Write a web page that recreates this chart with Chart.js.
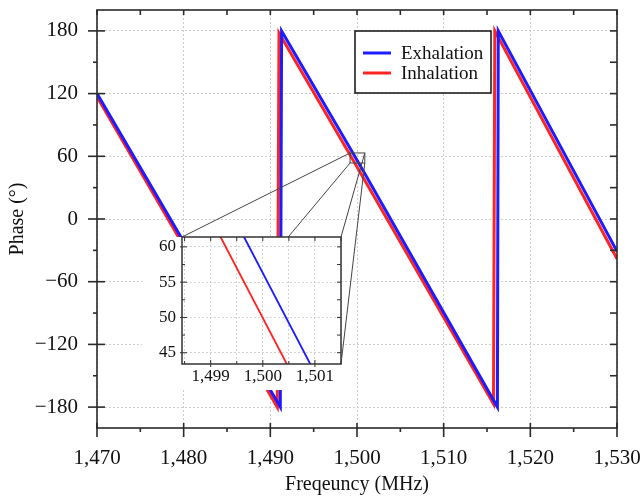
<!DOCTYPE html>
<html>
<head>
<meta charset="utf-8">
<script src="https://cdn.jsdelivr.net/npm/chart.js@4.4.0/dist/chart.umd.min.js"></script>
<style>
  html, body { margin: 0; padding: 0; background: #fff; }
  #wrap { position: relative; width: 643px; height: 497px; }
  #main { position: absolute; left: 0; top: 0; }
  #inset { position: absolute; left: 142px; top: 236px; }
</style>
</head>
<body>
<div id="wrap">
  <canvas id="main" width="643" height="497"></canvas>
  <canvas id="inset" width="203" height="154"></canvas>
</div>
<script>
// Phase vs frequency
const exhalationFreq  = [1470, 1491.15, 1491.3, 1499.64, 1500.91, 1516.2, 1516.3, 1530];
const exhalationPhase = [120, -180, 180, 61.4, 43.4, -180, 180, -31];
const inhalationFreq  = [1470, 1490.8, 1491.0, 1499.19, 1500.46, 1515.75, 1515.9, 1530];
const inhalationPhase = [117, -180, 178, 61.4, 43.4, -177, 180, -38];

const freqTicks  = [1470, 1480, 1490, 1500, 1510, 1520, 1530];
const freqMinor  = [1475, 1485, 1495, 1505, 1515, 1525];
const phaseTicks = [-180, -120, -60, 0, 60, 120, 180];
const phaseMinor = [-150, -90, -30, 30, 90, 150];

// inset window
const insetFreqTicks  = [1499, 1500, 1501];
const insetPhaseTicks = [45, 50, 55, 60];
const insetFreqRange  = [1498.45, 1501.5];
const insetPhaseRange = [43.4, 61.4];
// small box marked on the main plot
const zoomBoxFreq  = [1499.2, 1500.9];
const zoomBoxPhase = [53.6, 63.2];

const blue = '#1c1cff';
const red = '#ff2424';
const serif = "'Liberation Serif', 'Times New Roman', serif";
const ink = '#111';

const toPoints = (xs, ys) => xs.map((x, i) => ({ x: x, y: ys[i] }));
const fmt = v => Number(v).toLocaleString('en-US').replace('-', '\u2212');

function tickMarks(ctx, scale, values, fixed, from, to) {
    // draws short marks across an axis line
    values.forEach(v => {
        const p = scale.getPixelForValue(v);
        ctx.beginPath();
        if (scale.isHorizontal()) {
            ctx.moveTo(p, fixed + from);
            ctx.lineTo(p, fixed + to);
        } else {
            ctx.moveTo(fixed + from, p);
            ctx.lineTo(fixed + to, p);
        }
        ctx.stroke();
    });
}

function frame(ctx, ca, color, width) {
    ctx.save();
    ctx.strokeStyle = color;
    ctx.lineWidth = width;
    ctx.strokeRect(ca.left, ca.top, ca.right - ca.left, ca.bottom - ca.top);
    ctx.restore();
}

// ---------- inset ----------
const insetDeco = {
    id: 'insetDeco',
    beforeDraw(chart) {
        const { ctx, chartArea: ca } = chart;
        ctx.save();
        ctx.fillStyle = '#fff';
        ctx.fillRect(0, ca.top, ca.right, chart.height - ca.top);
        ctx.restore();
    },
    afterDraw(chart) {
        const { ctx, chartArea: ca } = chart;
        const xs = chart.scales.x, ys = chart.scales.y;
        frame(ctx, ca, '#333', 1.5);
        ctx.save();
        ctx.strokeStyle = '#333';
        ctx.lineWidth = 1;
        const fMinor = [1498.5, 1499.5, 1500.5, 1501.5];
        const pMinor = [47.5, 52.5, 57.5];
        tickMarks(ctx, ys, insetPhaseTicks, ca.left, -2, 5);
        tickMarks(ctx, ys, pMinor, ca.left, 0, 3);
        tickMarks(ctx, ys, insetPhaseTicks.concat(pMinor), ca.right, -4, 0);
        tickMarks(ctx, xs, insetFreqTicks, ca.bottom, -4, 3);
        tickMarks(ctx, xs, fMinor, ca.bottom, -3, 0);
        tickMarks(ctx, xs, insetFreqTicks.concat(fMinor), ca.top, 0, 4);
        ctx.restore();
    }
};

const insetChart = new Chart(document.getElementById('inset'), {
    type: 'line',
    data: {
        datasets: [
            { label: 'Exhalation', data: toPoints(exhalationFreq, exhalationPhase), borderColor: blue, borderWidth: 1.8, pointRadius: 0 },
            { label: 'Inhalation', data: toPoints(inhalationFreq, inhalationPhase), borderColor: red, borderWidth: 1.8, pointRadius: 0 }
        ]
    },
    options: {
        responsive: false,
        animation: false,
        events: [],
        layout: { padding: { left: 0, top: 1, right: 4, bottom: 0 } },
        plugins: { legend: { display: false }, tooltip: { enabled: false } },
        scales: {
            x: {
                type: 'linear',
                min: insetFreqRange[0],
                max: insetFreqRange[1],
                afterBuildTicks: s => {
                    const t = [];
                    for (let v = 1498.5; v <= 1501.51; v += 0.5) t.push({ value: +v.toFixed(1) });
                    s.ticks = t;
                },
                afterFit: s => { s.height = 26; s.paddingLeft = 0; s.paddingRight = 0; },
                grid: { drawTicks: false, color: '#d2d2d2' },
                border: { display: false, dash: [2, 2] },
                ticks: {
                    padding: 2, autoSkip: false, maxRotation: 0, color: ink,
                    font: { family: serif, size: 17 },
                    callback: v => insetFreqTicks.includes(v) ? fmt(v) : ''
                }
            },
            y: {
                type: 'linear',
                min: insetPhaseRange[0],
                max: insetPhaseRange[1],
                afterBuildTicks: s => { s.ticks = insetPhaseTicks.map(v => ({ value: v })); },
                afterFit: s => { s.width = 40; s.paddingTop = 0; s.paddingBottom = 0; },
                grid: { drawTicks: false, color: '#d2d2d2' },
                border: { display: false, dash: [2, 2] },
                ticks: { padding: 6, autoSkip: false, color: ink, font: { family: serif, size: 17 }, callback: v => fmt(v) }
            }
        }
    },
    plugins: [insetDeco]
});

// ---------- main ----------
const mainDeco = {
    id: 'mainDeco',
    afterDraw(chart) {
        const { ctx, chartArea: ca } = chart;
        const xs = chart.scales.x, ys = chart.scales.y;

        frame(ctx, ca, '#2a2a2a', 1.6);
        ctx.save();
        ctx.strokeStyle = '#2a2a2a';
        ctx.lineWidth = 1.6;
        tickMarks(ctx, ys, phaseTicks, ca.left, -9, 8);
        tickMarks(ctx, ys, phaseMinor, ca.left, -4, 0);
        tickMarks(ctx, ys, phaseTicks.concat(phaseMinor), ca.right, -7, 0);
        tickMarks(ctx, xs, freqTicks, ca.bottom, -5, 9);
        tickMarks(ctx, xs, freqMinor, ca.bottom, 0, 4);
        tickMarks(ctx, xs, freqTicks.concat(freqMinor), ca.top, 0, 5);
        ctx.restore();

        // zoom box and connectors to the inset
        const bx0 = xs.getPixelForValue(zoomBoxFreq[0]), bx1 = xs.getPixelForValue(zoomBoxFreq[1]);
        const by0 = ys.getPixelForValue(zoomBoxPhase[1]), by1 = ys.getPixelForValue(zoomBoxPhase[0]);
        const icv = insetChart.canvas, ica = insetChart.chartArea;
        const il = icv.offsetLeft + ica.left, ir = icv.offsetLeft + ica.right;
        const it = icv.offsetTop + ica.top, ib = icv.offsetTop + ica.bottom;
        ctx.save();
        ctx.strokeStyle = '#444';
        ctx.lineWidth = 1;
        ctx.strokeRect(bx0, by0, bx1 - bx0, by1 - by0);
        [[bx0, by0, il, it], [bx0, by1, il, ib], [bx1, by0, ir, it], [bx1, by1, ir, ib]].forEach(s => {
            ctx.beginPath();
            ctx.moveTo(s[0], s[1]);
            ctx.lineTo(s[2], s[3]);
            ctx.stroke();
        });
        ctx.restore();

        // legend
        const lx = 355, ly = 31, lw = 136, lh = 62;
        ctx.save();
        ctx.fillStyle = '#fff';
        ctx.fillRect(lx, ly, lw, lh);
        ctx.strokeStyle = '#111';
        ctx.lineWidth = 1.5;
        ctx.strokeRect(lx, ly, lw, lh);
        ctx.font = '19px ' + serif;
        ctx.textBaseline = 'middle';
        ctx.fillStyle = ink;
        chart.data.datasets.forEach((ds, i) => {
            const y = ly + 22 + i * 20;
            ctx.strokeStyle = ds.borderColor;
            ctx.lineWidth = 3;
            ctx.beginPath();
            ctx.moveTo(lx + 8, y);
            ctx.lineTo(lx + 36, y);
            ctx.stroke();
            ctx.fillText(ds.label, lx + 46, y + 1);
        });
        ctx.restore();
    }
};

new Chart(document.getElementById('main'), {
    type: 'line',
    data: {
        datasets: [
            { label: 'Exhalation', data: toPoints(exhalationFreq, exhalationPhase), borderColor: blue, borderWidth: 3, pointRadius: 0 },
            { label: 'Inhalation', data: toPoints(inhalationFreq, inhalationPhase), borderColor: red, borderWidth: 3, pointRadius: 0 }
        ]
    },
    options: {
        responsive: false,
        animation: false,
        events: [],
        layout: { padding: { left: 0, top: 10, right: 26, bottom: 0 } },
        plugins: { legend: { display: false }, tooltip: { enabled: false } },
        scales: {
            x: {
                type: 'linear',
                min: 1470,
                max: 1530,
                afterBuildTicks: s => { s.ticks = freqTicks.map(v => ({ value: v })); },
                afterFit: s => { s.height = 69; s.paddingLeft = 0; s.paddingRight = 0; },
                grid: { drawTicks: false, color: '#cccccc' },
                border: { display: false, dash: [2, 2] },
                ticks: { padding: 18, autoSkip: false, maxRotation: 0, color: ink, font: { family: serif, size: 21 }, callback: v => fmt(v) },
                title: { display: true, text: 'Freqeuncy (MHz)', color: ink, font: { family: serif, size: 20 }, padding: { top: 0, bottom: 0 } }
            },
            y: {
                type: 'linear',
                min: -200,
                max: 200,
                afterBuildTicks: s => { s.ticks = phaseTicks.map(v => ({ value: v })); },
                afterFit: s => { s.width = 97; s.paddingTop = 0; s.paddingBottom = 0; },
                grid: { drawTicks: false, color: '#cccccc' },
                border: { display: false, dash: [2, 2] },
                ticks: { padding: 19, autoSkip: false, color: ink, font: { family: serif, size: 21 }, callback: v => fmt(v) },
                title: { display: true, text: 'Phase (\u00b0)', color: ink, font: { family: serif, size: 20 }, padding: { top: 6, bottom: 0 } }
            }
        }
    },
    plugins: [mainDeco]
});
</script>
</body>
</html>
